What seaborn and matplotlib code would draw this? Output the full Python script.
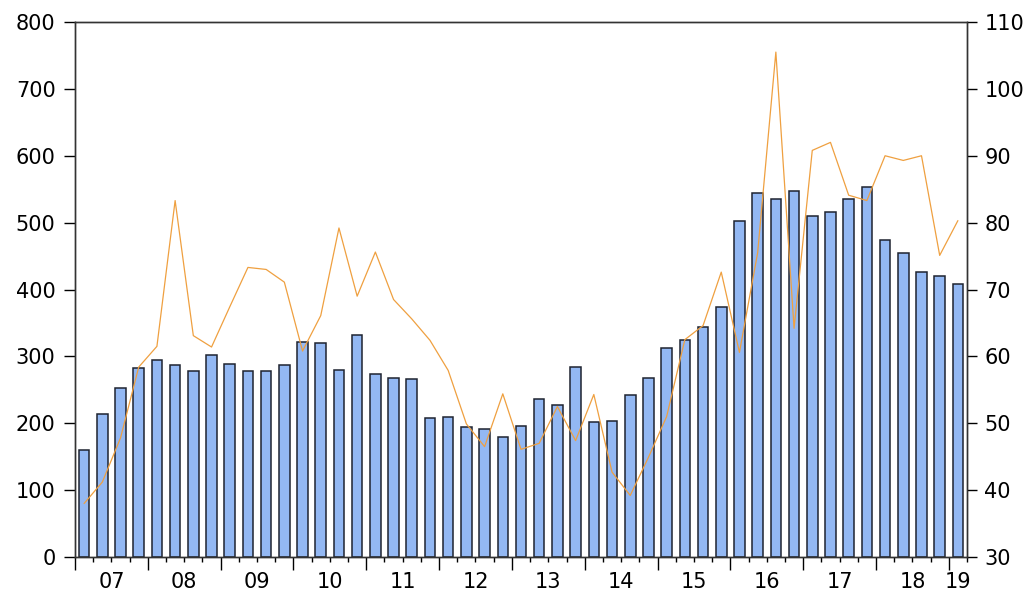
import numpy as np
import pandas as pd
import matplotlib
matplotlib.use("Agg")
import matplotlib.pyplot as plt
import seaborn as sns

# Quarterly data, 2007Q1 - 2019Q1
quarters = pd.period_range("2007Q1", "2019Q1", freq="Q").astype(str)

bar_values = [160, 214, 252, 282, 294, 287, 278, 302, 288, 278,
              278, 287, 322, 320, 280, 332, 274, 268, 266, 208,
              210, 194, 192, 180, 196, 236, 228, 284, 202, 204,
              242, 268, 312, 324, 344, 374, 502, 544, 536, 548,
              510, 516, 536, 554, 474, 454, 426, 420, 408]

line_values = [38.0, 41.2, 47.8, 58.4, 61.5, 83.3, 63.1, 61.4, 67.4, 73.3,
               73.0, 71.1, 60.8, 66.1, 79.2, 69.0, 75.6, 68.5, 65.6, 62.4,
               57.9, 49.9, 46.5, 54.4, 46.1, 47.0, 52.5, 47.4, 54.3, 42.7,
               39.2, 44.9, 51.0, 62.5, 64.6, 72.6, 60.6, 75.5, 105.5, 64.2,
               90.8, 92.0, 84.1, 83.3, 90.0, 89.3, 90.0, 75.1, 80.3]

year_labels = ["07", "08", "09", "10", "11", "12", "13",
               "14", "15", "16", "17", "18", "19"]

df = pd.DataFrame({"quarter": quarters,
                   "pos": np.arange(len(quarters)),
                   "bars": bar_values,
                   "line": line_values})

sns.set_style("ticks")
plt.rcParams["font.family"] = ["DejaVu Sans"]
plt.rcParams["font.size"] = 15
plt.rcParams["text.color"] = "black"
plt.rcParams["xtick.color"] = "black"
plt.rcParams["ytick.color"] = "black"

fig = plt.figure(figsize=(10.33, 6.02), dpi=100)
ax = fig.add_axes([75 / 1033, 45 / 602, 892 / 1033, 535 / 602])

sns.barplot(data=df, x="pos", y="bars", native_scale=True, width=0.58,
            color="#93B8F3", edgecolor="#1E2330", linewidth=1.1,
            saturation=1, ax=ax)

ax2 = ax.twinx()
sns.lineplot(data=df, x="pos", y="line", color="#EFA040", linewidth=0.9, ax=ax2)

n = len(quarters)
ax.set_xlim(-0.5, n - 0.5)
ax.set_ylim(0, 800)
ax2.set_ylim(30, 110)

# year boundaries (long ticks) and quarter boundaries (short ticks)
ax.set_xticks(np.arange(-0.5, n - 0.5, 4))
ax.set_xticks([q - 0.5 for q in range(1, n + 1) if q % 4 != 0], minor=True)
ax.tick_params(axis="x", which="major", length=9.5, width=1, labelbottom=False)
ax.tick_params(axis="x", which="minor", length=3.5, width=1)

# year labels centred within each year
centers = [1.5 + 4 * k for k in range(12)] + [n - 1]
secax = ax.secondary_xaxis("bottom")
secax.set_xticks(centers, year_labels)
secax.tick_params(length=0, pad=11, labelsize=15, labelcolor="black")
secax.spines["bottom"].set_visible(False)

ax.set_yticks(range(0, 801, 100))
ax.tick_params(axis="y", length=8, width=1, pad=6, labelsize=15, labelcolor="black")
ax2.set_yticks(range(30, 111, 10))
ax2.tick_params(axis="y", length=7.5, width=1, pad=5, labelsize=15, labelcolor="black")

for a in (ax, ax2):
    a.set_xlabel("")
    a.set_ylabel("")
    for s in a.spines.values():
        s.set_visible(True)
        s.set_linewidth(1.0)
        s.set_color("#333333")

plt.savefig("out.png", dpi=100)
